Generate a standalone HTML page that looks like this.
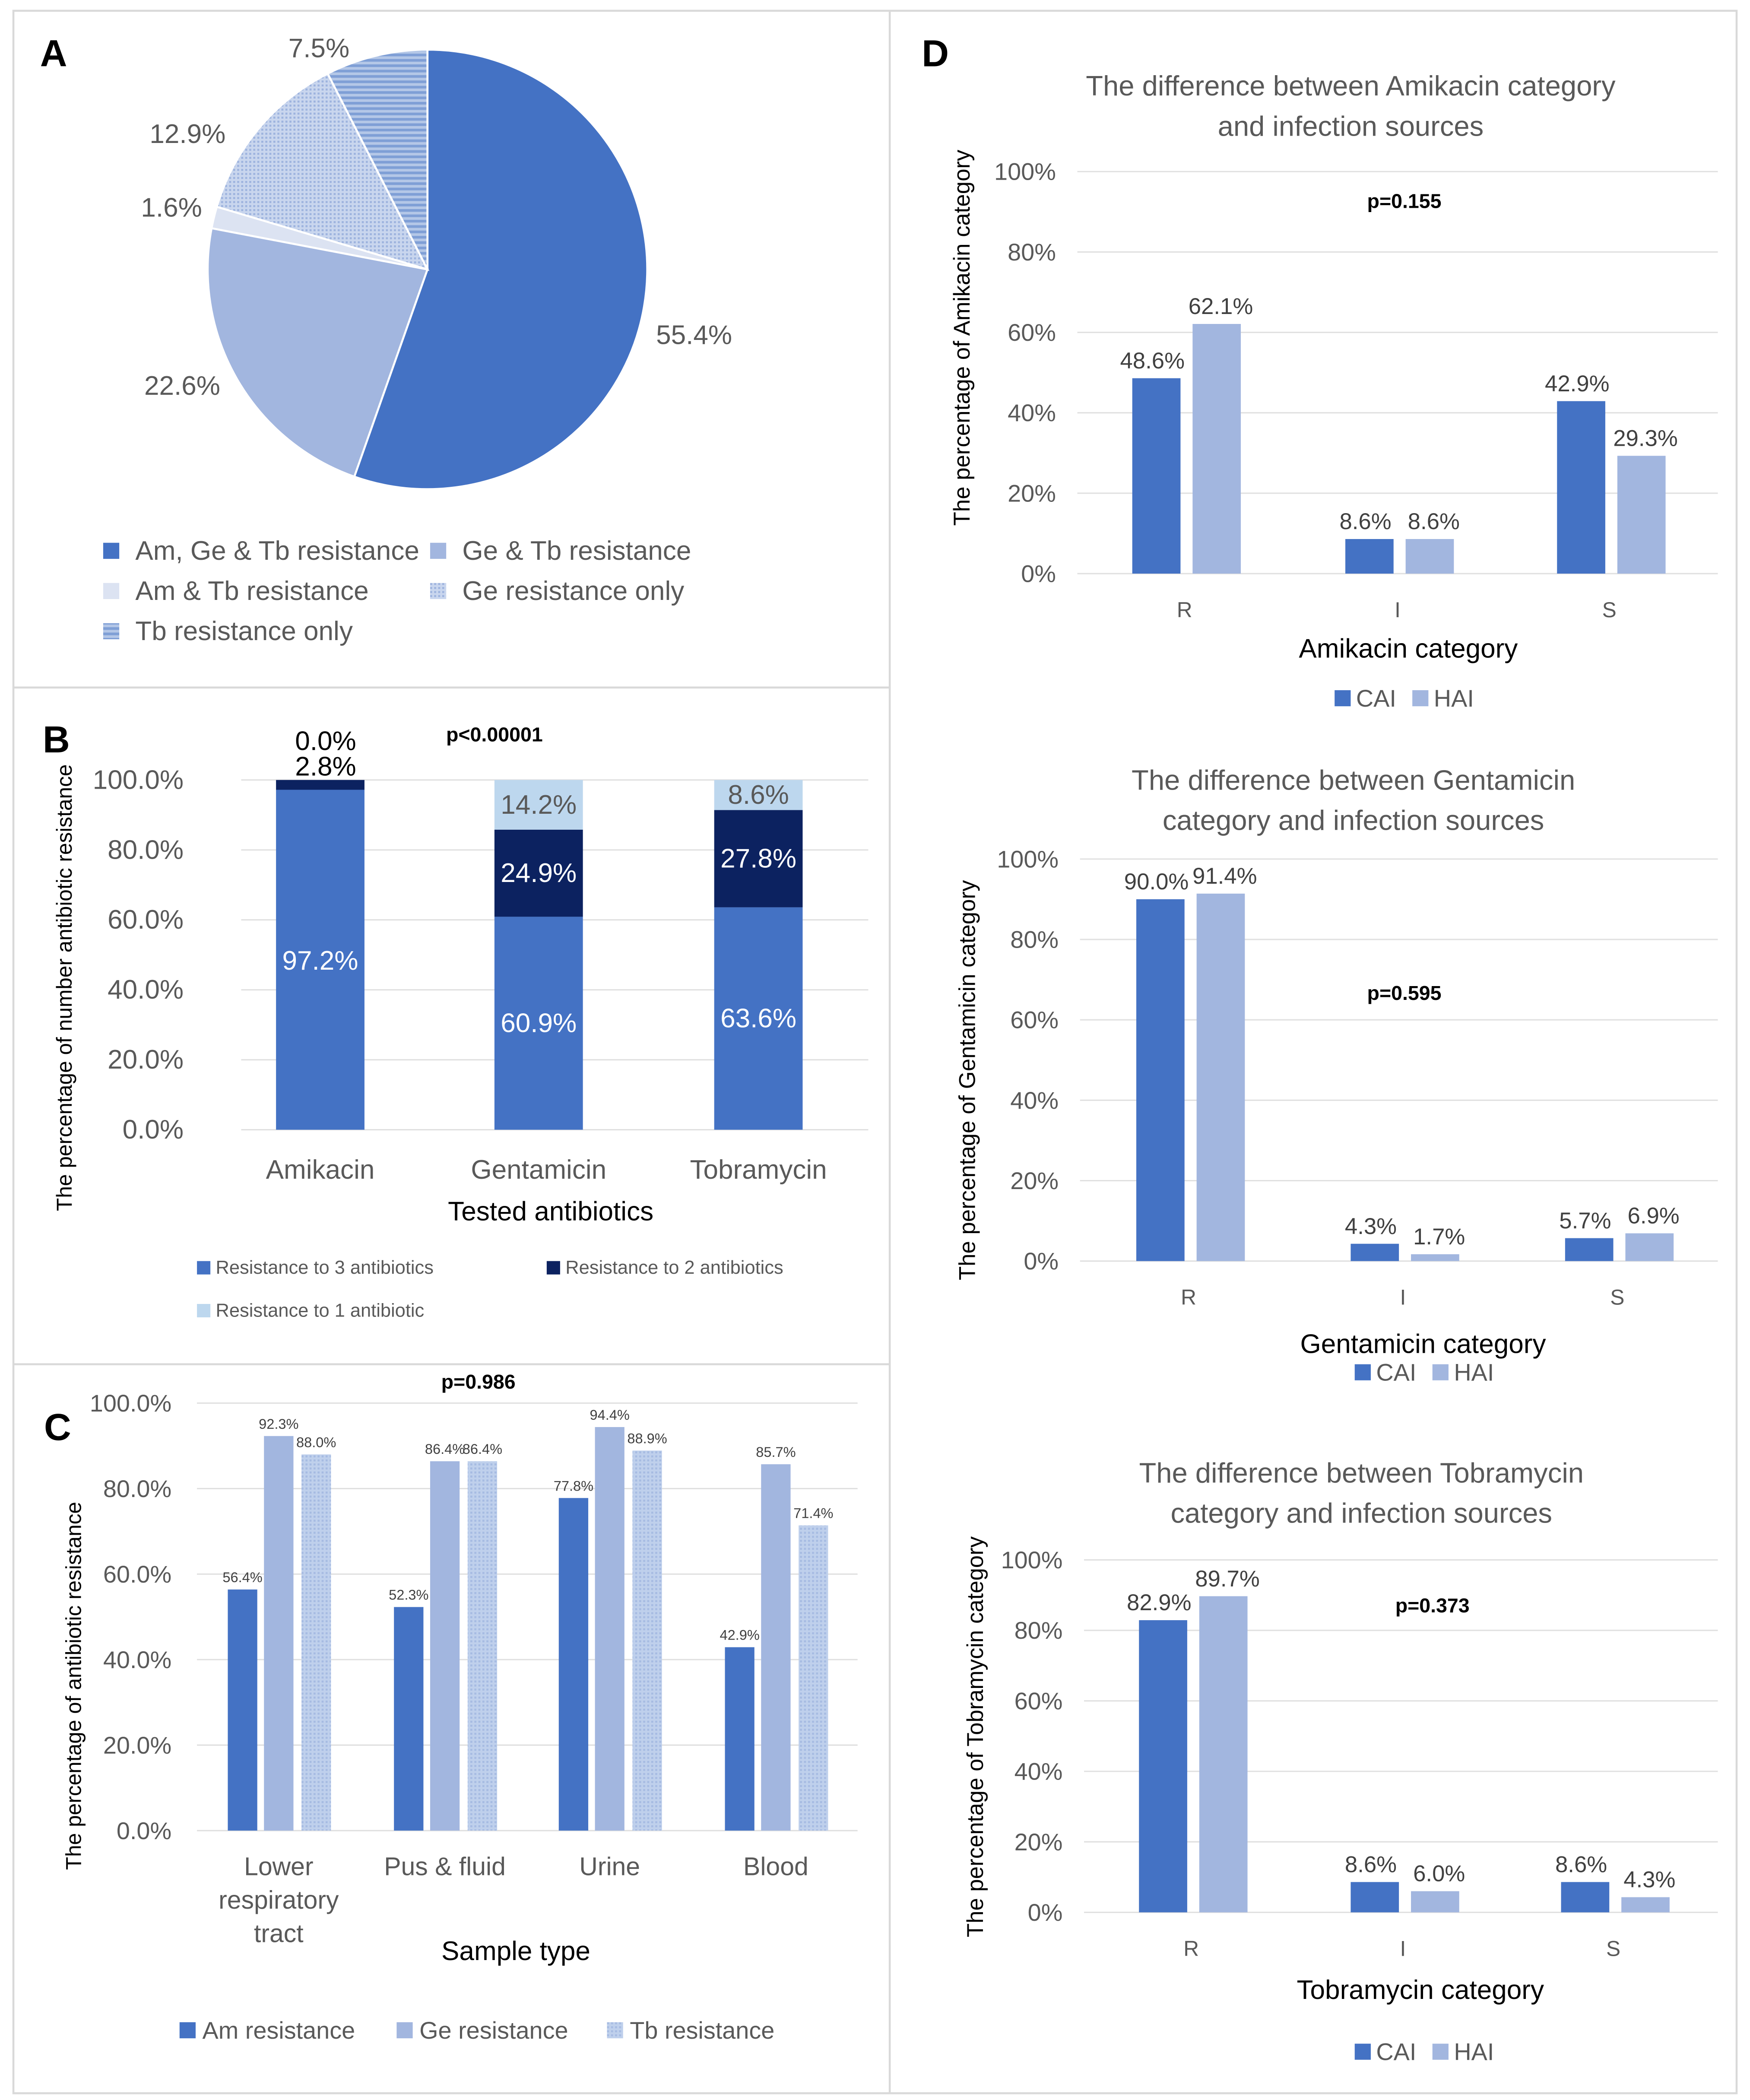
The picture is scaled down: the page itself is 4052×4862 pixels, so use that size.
<!DOCTYPE html>
<html><head><meta charset="utf-8">
<style>
html,body{margin:0;padding:0;background:#fff;}
svg{display:block;font-family:"Liberation Sans",sans-serif;}
</style></head>
<body>
<svg id="root" width="4052" height="4862" viewBox="0 0 1306 1567" xmlns="http://www.w3.org/2000/svg">
<defs>
<pattern id="stripe" width="4" height="4" patternUnits="userSpaceOnUse"><rect width="4" height="4" fill="#B4C7E7"/><rect width="4" height="2" fill="#7F9FD6"/></pattern>
<pattern id="dots" width="3" height="3" patternUnits="userSpaceOnUse"><rect width="3" height="3" fill="#C9D6EE"/><rect width="1.5" height="1.5" fill="#9DB3DE"/></pattern>
<pattern id="dots2" width="3" height="3" patternUnits="userSpaceOnUse"><rect width="3" height="3" fill="#BFD0EC"/><rect width="1.5" height="1.5" fill="#A6BBE2"/></pattern>
</defs>
<g id="g"></g>
</svg>
<script>
// ---- Data ----
const pieLabels = ["Am, Ge & Tb resistance","Ge & Tb resistance","Am & Tb resistance","Ge resistance only","Tb resistance only"];
const pieValues = [55.4, 22.6, 1.6, 12.9, 7.5];
const bCats = ["Amikacin","Gentamicin","Tobramycin"];
const bRes3 = [97.2, 60.9, 63.6];
const bRes2 = [2.8, 24.9, 27.8];
const bRes1 = [0.0, 14.2, 8.6];
const bTicks = ["0.0%","20.0%","40.0%","60.0%","80.0%","100.0%"];
const cCats = [["Lower","respiratory","tract"],["Pus & fluid"],["Urine"],["Blood"]];
const cAm = [56.4, 52.3, 77.8, 42.9];
const cGe = [92.3, 86.4, 94.4, 85.7];
const cTb = [88.0, 86.4, 88.9, 71.4];
const dCats = ["R","I","S"];
const d1CAI = [48.6, 8.6, 42.9];
const d1HAI = [62.1, 8.6, 29.3];
const d2CAI = [90.0, 4.3, 5.7];
const d2HAI = [91.4, 1.7, 6.9];
const d3CAI = [82.9, 8.6, 8.6];
const d3HAI = [89.7, 6.0, 4.3];
const dTicks = ["0%","20%","40%","60%","80%","100%"];

const NS="http://www.w3.org/2000/svg";
const G=document.getElementById('g');
const GREY="#595959", DARK="#4472C4", LIGHT="#A2B6DF", NAVY="#0C2260", PALE="#BDD7EE";
function mk(tag,name,attrs,parent,txt){
  const e=document.createElementNS(NS,tag);
  
  
  for(const k in attrs) e.setAttribute(k,attrs[k]);
  if(txt!==undefined) e.textContent=txt;
  (parent||G).appendChild(e);
  return e;
}
function text(name,x,y,s,size,opts){
  opts=opts||{};
  return mk('text',name,{x:x,y:y,'font-size':size,fill:opts.fill||GREY,'text-anchor':opts.anchor||'middle','dominant-baseline':'central','font-weight':opts.bold?'bold':'normal',transform:opts.rot?`rotate(-90 ${x} ${y})`:''},opts.parent,s);
}
// frames
mk('rect','figure-border',{x:10,y:8,width:1286,height:1554,fill:'none',stroke:'#d9d9d9','stroke-width':1.5});
mk('line','divider-vertical',{x1:664,y1:8,x2:664,y2:1562,stroke:'#d9d9d9','stroke-width':1.5});
mk('line','divider-ab',{x1:10,y1:513,x2:664,y2:513,stroke:'#d9d9d9','stroke-width':1.5});
mk('line','divider-bc',{x1:10,y1:1018,x2:664,y2:1018,stroke:'#d9d9d9','stroke-width':1.5});
text('panel-label-a',40,40,'A',28,{bold:true,fill:'#000'});
text('panel-label-b',42,552,'B',28,{bold:true,fill:'#000'});
text('panel-label-c',43,1065,'C',28,{bold:true,fill:'#000'});
text('panel-label-d',698,40,'D',28,{bold:true,fill:'#000'});

// ---- Panel A pie ----
(function(){
  const cx=319,cy=201,r=164;
  const fills=[DARK,LIGHT,'#DCE3F2','url(#dots)','url(#stripe)'];
  const lbl=[[518,250],[136,288],[128,155],[140,100],[238,36]];
  const tot=pieValues.reduce((a,b)=>a+b,0);
  let a0=-Math.PI/2;
  pieValues.forEach((v,i)=>{
    const a1=a0+v/tot*2*Math.PI;
    const x0=cx+r*Math.cos(a0),y0=cy+r*Math.sin(a0),x1=cx+r*Math.cos(a1),y1=cy+r*Math.sin(a1);
    const large=(a1-a0)>Math.PI?1:0;
    mk('path','pie-slice-'+i,{d:`M${cx},${cy}L${x0},${y0}A${r},${r} 0 ${large} 1 ${x1},${y1}Z`,fill:fills[i],stroke:'#fff','stroke-width':1.5});
    text('pie-label-'+i,lbl[i][0],lbl[i][1],v.toFixed(1)+'%',20);
    a0=a1;
  });
  const pos=[[83,411],[327,411],[83,441],[327,441],[83,471]];
  pieLabels.forEach((l,i)=>{
    mk('rect','pie-legend-swatch-'+i,{x:pos[i][0]-6,y:pos[i][1]-6,width:12,height:12,fill:fills[i]});
    text('pie-legend-entry-'+i,pos[i][0]+18,pos[i][1],l,20,{anchor:'start'});
  });
})();

// ---- Panel B ----
(function(){
  const y0=843,y100=582,ys=v=>y0-(y0-y100)*v/100;
  bTicks.forEach((t,i)=>{
    const y=ys(i*20);
    mk('line','b-gridline-'+i,{x1:180,x2:648,y1:y,y2:y,stroke:'#e0e0e0','stroke-width':1});
    text('b-y-tick-'+i,137,y,t,20,{anchor:'end'});
  });
  const xs=[239,402,566],w=66;
  bCats.forEach((c,i)=>{
    let base=0;
    [[bRes3,DARK,'#fff'],[bRes2,NAVY,'#fff'],[bRes1,PALE,GREY]].forEach((s,j)=>{
      const v=s[0][i];
      mk('rect','b-bar-'+c+'-'+j,{x:xs[i]-w/2,y:ys(base+v),width:w,height:ys(base)-ys(base+v),fill:s[1]});
      base+=v;
    });
    text('b-x-tick-'+i,xs[i],873,c,20);
  });
  text('b-val-am-3',239,717,bRes3[0].toFixed(1)+'%',20,{fill:'#fff'});
  text('b-val-am-2',243,572,bRes2[0].toFixed(1)+'%',20,{fill:'#000'});
  text('b-val-am-1',243,553,bRes1[0].toFixed(1)+'%',20,{fill:'#000'});
  [1,2].forEach(i=>{
    text('b-val-3-'+i,xs[i],ys(bRes3[i]/2),bRes3[i].toFixed(1)+'%',20,{fill:'#fff'});
    text('b-val-2-'+i,xs[i],ys(bRes3[i]+bRes2[i]/2),bRes2[i].toFixed(1)+'%',20,{fill:'#fff'});
    text('b-val-1-'+i,xs[i],ys(bRes3[i]+bRes2[i]+bRes1[i]/2),bRes1[i].toFixed(1)+'%',20);
  });
  text('b-x-axis-title',411,904,'Tested antibiotics',20,{fill:'#000'});
  text('b-y-axis-title',48,737,'The percentage of number antibiotic resistance',16,{rot:true,fill:'#000'});
  text('b-p-value',369,548,'p<0.00001',15,{bold:true,fill:'#000'});
  mk('rect','b-legend-swatch-3',{x:147,y:941,width:10,height:10,fill:DARK});
  text('b-legend-entry-3',161,946,'Resistance to 3 antibiotics',14,{anchor:'start'});
  mk('rect','b-legend-swatch-2',{x:408,y:941,width:10,height:10,fill:NAVY});
  text('b-legend-entry-2',422,946,'Resistance to 2 antibiotics',14,{anchor:'start'});
  mk('rect','b-legend-swatch-1',{x:147,y:973,width:10,height:10,fill:PALE});
  text('b-legend-entry-1',161,978,'Resistance to 1 antibiotic',14,{anchor:'start'});
})();

// ---- Panel C ----
(function(){
  const y0=1366,y100=1047,ys=v=>y0-(y0-y100)*v/100;
  bTicks.forEach((t,i)=>{
    const y=ys(i*20);
    mk('line','c-gridline-'+i,{x1:147,x2:640,y1:y,y2:y,stroke:'#e0e0e0','stroke-width':1});
    text('c-y-tick-'+i,128,y,t,18,{anchor:'end'});
  });
  const xs=[208,332,455,579],w=22,off=[-27,0,28];
  const series=[[cAm,DARK],[cGe,LIGHT],[cTb,'url(#dots2)']];
  xs.forEach((x,i)=>{
    series.forEach((s,j)=>{
      const v=s[0][i];
      mk('rect','c-bar-'+i+'-'+j,{x:x+off[j]-w/2,y:ys(v),width:w,height:y0-ys(v),fill:s[1]});
      text('c-val-'+i+'-'+j,x+off[j],ys(v)-9,v.toFixed(1)+'%',10.5,{fill:'#404040'});
    });
    cCats[i].forEach((l,k)=>text('c-x-tick-'+i+'-'+k,x,1393+k*25,l,19));
  });
  text('c-x-axis-title',385,1456,'Sample type',20,{fill:'#000'});
  text('c-y-axis-title',55,1258,'The percentage of antibiotic resistance',16,{rot:true,fill:'#000'});
  text('c-p-value',357,1031,'p=0.986',15,{bold:true,fill:'#000'});
  const lg=[[140,'Am resistance',DARK],[302,'Ge resistance',LIGHT],[459,'Tb resistance','url(#dots2)']];
  lg.forEach((l,i)=>{
    mk('rect','c-legend-swatch-'+i,{x:l[0]-6,y:1509,width:12,height:12,fill:l[2]});
    text('c-legend-entry-'+i,l[0]+11,1515,l[1],18,{anchor:'start'});
  });
})();

// ---- Panel D ----
function dChart(id,cfg,cai,hai){
  const ys=v=>cfg.y0-(cfg.y0-cfg.y100)*v/100;
  text(id+'-title-1',cfg.tx,cfg.ty,cfg.title[0],21);
  text(id+'-title-2',cfg.tx,cfg.ty+30,cfg.title[1],21);
  dTicks.forEach((t,i)=>{
    const y=ys(i*20);
    mk('line',id+'-gridline-'+i,{x1:cfg.lx+16,x2:1282,y1:y,y2:y,stroke:'#e0e0e0','stroke-width':1});
    text(id+'-y-tick-'+i,cfg.lx,y,t,18,{anchor:'end'});
  });
  cfg.xs.forEach((x,i)=>{
    [[cai,DARK,-21],[hai,LIGHT,24]].forEach((s,j)=>{
      const v=s[0][i];
      mk('rect',id+'-bar-'+dCats[i]+'-'+(j?'hai':'cai'),{x:x+s[2]-18,y:ys(v),width:36,height:cfg.y0-ys(v),fill:s[1]});
      text(id+'-val-'+i+'-'+j,x+s[2]+(j?3:-3),ys(v)-13,v.toFixed(1)+'%',17,{fill:'#404040'});
    });
    text(id+'-x-tick-'+i,x,cfg.y0+27,dCats[i],16);
  });
  text(id+'-x-axis-title',cfg.xtx,cfg.xty,cfg.xt,20,{fill:'#000'});
  text(id+'-y-axis-title',cfg.ytx,cfg.yty,cfg.yt,17,{rot:true,fill:'#000'});
  text(id+'-p-value',cfg.px,cfg.py,cfg.p,15,{bold:true,fill:'#000'});
  mk('rect',id+'-legend-swatch-cai',{x:cfg.lg-6,y:cfg.lgy-6,width:12,height:12,fill:DARK});
  text(id+'-legend-entry-cai',cfg.lg+10,cfg.lgy,'CAI',18,{anchor:'start'});
  mk('rect',id+'-legend-swatch-hai',{x:cfg.lg+52,y:cfg.lgy-6,width:12,height:12,fill:LIGHT});
  text(id+'-legend-entry-hai',cfg.lg+68,cfg.lgy,'HAI',18,{anchor:'start'});
}
dChart('d1',{title:['The difference between Amikacin category','and infection sources'],tx:1008,ty:64,y0:428,y100:128,lx:788,xs:[884,1043,1201],
  xt:'Amikacin category',xtx:1051,xty:484,yt:'The percentage of Amikacin category',ytx:718,yty:252,p:'p=0.155',px:1048,py:150,lg:1002,lgy:521},d1CAI,d1HAI);
dChart('d2',{title:['The difference between Gentamicin','category and infection sources'],tx:1010,ty:582,y0:941,y100:641,lx:790,xs:[887,1047,1207],
  xt:'Gentamicin category',xtx:1062,xty:1003,yt:'The percentage of Gentamicin category',ytx:722,yty:806,p:'p=0.595',px:1048,py:741,lg:1017,lgy:1024},d2CAI,d2HAI);
dChart('d3',{title:['The difference between Tobramycin','category and infection sources'],tx:1016,ty:1099,y0:1427,y100:1164,lx:793,xs:[889,1047,1204],
  xt:'Tobramycin category',xtx:1060,xty:1485,yt:'The percentage of Tobramycin category',ytx:728,yty:1296,p:'p=0.373',px:1069,py:1198,lg:1017,lgy:1531},d3CAI,d3HAI);
</script>
</body></html>
